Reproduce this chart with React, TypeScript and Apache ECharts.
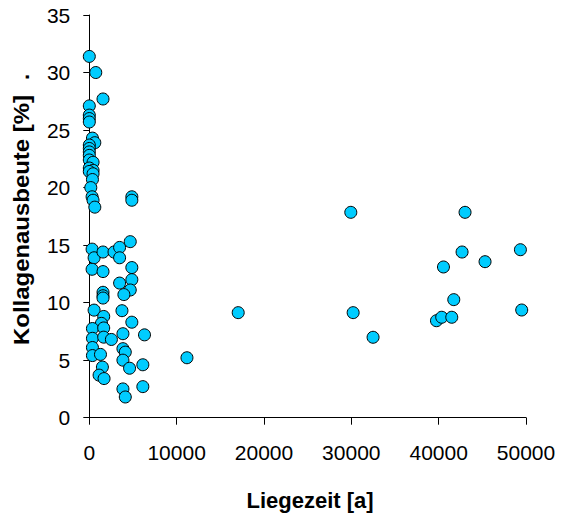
import React, { useEffect, useRef } from "react";
import * as echarts from "echarts";

// Liegezeit [a] (x) and Kollagenausbeute [%] (y)
const liegezeit: number[] = [
  0, 740, 1570, 0, 0, 0, 0, 360, 630, 0,
  0, 0, 0, 0, 430, 0, 430, 0, 430, 360,
  170, 320, 430, 630, 4870, 4870,
  320, 550, 1570, 2830, 3470, 3470, 4690, 320, 1570, 4870,
  4870, 3470, 4690, 3960, 1570, 1570, 1570, 550, 3740, 1650,
  1390, 4870, 360, 1650, 360, 1650, 2530, 3850, 6320, 360,
  3850, 4120, 360, 1280, 3850, 6130, 4610, 1500, 1120, 1690,
  3850, 6130, 4120, 11180,
  29940, 43020, 42680, 49360, 45310, 40550, 41730, 17050, 30210, 49510,
  39750, 40350, 41500, 32490,
];
const kollagen: number[] = [
  31.4, 30.0, 27.7, 27.1, 26.3, 26.0, 25.7, 24.3, 23.9, 23.7,
  23.4, 23.1, 22.8, 22.4, 22.2, 21.7, 21.5, 21.4, 21.2, 20.7,
  20.0, 19.2, 18.9, 18.3, 19.2, 18.9,
  14.65, 13.9, 14.4, 14.4, 14.8, 13.9, 15.3, 12.9, 12.7, 13.05,
  12.0, 11.7, 11.1, 10.7, 10.9, 10.6, 10.4, 9.35, 9.3, 8.8,
  8.2, 8.3, 7.75, 7.8, 6.9, 7.0, 6.8, 7.3, 7.2, 6.1,
  6.0, 5.7, 5.4, 5.5, 5.0, 4.6, 4.3, 4.4, 3.7, 3.4,
  2.5, 2.7, 1.8, 5.21,
  17.85, 17.85, 14.4, 14.6, 13.56, 13.1, 10.26, 9.13, 9.13, 9.36,
  8.43, 8.73, 8.73, 6.99,
];

const xTitle = "Liegezeit [a]";
const yTitle = "Kollagenausbeute [%]";
const FONT = '"Liberation Sans", Arial, sans-serif';

export default function App() {
  const ref = useRef<HTMLDivElement>(null);
  useEffect(() => {
    if (!ref.current) return;
    const chart = echarts.init(ref.current, undefined, { renderer: "svg" });
    const data = liegezeit.map((x, i) => [x, kollagen[i]]);
    chart.setOption({
      animation: false,
      backgroundColor: "#fff",
      grid: { left: 89.3, right: 35, top: 15, bottom: 100.3, containLabel: false },
      xAxis: {
        type: "value",
        min: 0,
        max: 50000,
        interval: 10000,
        axisLine: { show: true, lineStyle: { color: "#000", width: 1 } },
        axisTick: { show: true, inside: false, length: 7, lineStyle: { color: "#000" } },
        splitLine: { show: false },
        axisLabel: {
          color: "#000",
          fontSize: 21,
          fontFamily: FONT,
          margin: 24,
          formatter: (v: number) => String(v),
        },
      },
      yAxis: {
        type: "value",
        min: 0,
        max: 35,
        interval: 5,
        axisLine: { show: true, lineStyle: { color: "#000", width: 1 } },
        axisTick: { show: true, inside: false, length: 6, lineStyle: { color: "#000" } },
        splitLine: { show: false },
        axisLabel: {
          color: "#000",
          fontSize: 21,
          fontFamily: FONT,
          margin: 19,
          formatter: (v: number) => String(v),
        },
      },
      graphic: [
        {
          type: "text",
          x: 310,
          y: 500,
          style: {
            text: xTitle,
            fontSize: 22,
            fontWeight: "bold",
            fontFamily: FONT,
            fill: "#000",
            align: "center",
            verticalAlign: "middle",
          },
        },
        {
          type: "text",
          x: 21,
          y: 220,
          rotation: Math.PI / 2,
          scaleX: 1.088,
          style: {
            text: yTitle,
            fontSize: 22,
            fontWeight: "bold",
            fontFamily: FONT,
            fill: "#000",
            align: "center",
            verticalAlign: "middle",
          },
        },
        {
          type: "text",
          x: 21,
          y: 77,
          rotation: Math.PI / 2,
          style: {
            text: ".",
            fontSize: 22,
            fontWeight: "bold",
            fontFamily: FONT,
            fill: "#000",
            align: "center",
            verticalAlign: "middle",
          },
        },
      ],
      series: [
        {
          type: "scatter",
          data,
          symbol: "circle",
          symbolSize: 12,
          clip: false,
          itemStyle: { color: "#00CCFF", borderColor: "#000", borderWidth: 1, opacity: 1 },
        },
      ],
    });
    return () => chart.dispose();
  }, []);
  return (
    <div
      ref={ref}
      style={{ position: "absolute", left: 0, top: 0, width: 561, height: 518 }}
    />
  );
}
